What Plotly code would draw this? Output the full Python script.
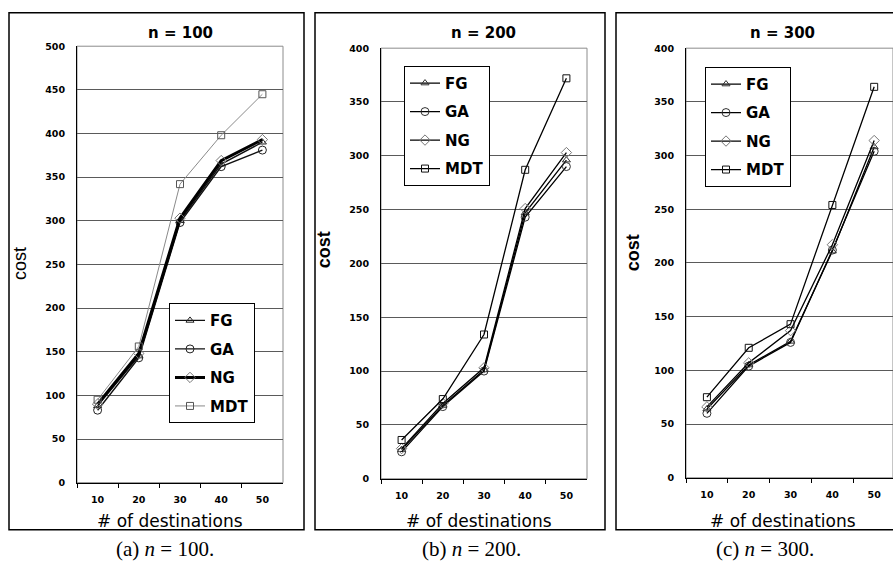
import plotly.graph_objects as go

W, H = 893, 572

# ---------------- data ----------------
categories = ["10", "20", "30", "40", "50"]
series_names = ["FG", "GA", "NG", "MDT"]

fg_100 = [88, 145, 300, 365, 390]
ga_100 = [83, 143, 298, 362, 381]
ng_100 = [90, 148, 303, 369, 393]
mdt_100 = [95, 156, 342, 398, 445]

fg_200 = [27, 68, 101, 247, 296]
ga_200 = [25, 67, 100, 243, 290]
ng_200 = [28, 70, 103, 251, 303]
mdt_200 = [36, 74, 134, 287, 372]

fg_300 = [64, 105, 127, 211, 308]
ga_300 = [60, 104, 126, 212, 304]
ng_300 = [66, 107, 137, 217, 314]
mdt_300 = [75, 121, 143, 254, 364]

panel_titles = ["n = 100", "n = 200", "n = 300"]
captions = ["(a) <i>n</i> = 100.", "(b) <i>n</i> = 200.", "(c) <i>n</i> = 300."]
y_max = [500, 400, 400]
x_title = "# of destinations"
y_title = "cost"


def fx(px):
    return px / W


def fy(py):
    return 1 - py / H


SYM = {"FG": "triangle-up-open", "GA": "circle-open", "NG": "diamond-open", "MDT": "square-open"}
SIZE = {"FG": 7, "GA": 8, "NG": 8, "MDT": 7}

styles_a = {
    "FG": dict(lc="#111111", lw=1.4, mc="#222222"),
    "GA": dict(lc="#111111", lw=1.4, mc="#222222"),
    "NG": dict(lc="#000000", lw=3.0, mc="#777777"),
    "MDT": dict(lc="#8a8a8a", lw=1.0, mc="#555555"),
}
styles_bc = {
    "FG": dict(lc="#000000", lw=1.3, mc="#333333"),
    "GA": dict(lc="#000000", lw=1.3, mc="#333333"),
    "NG": dict(lc="#000000", lw=1.3, mc="#777777"),
    "MDT": dict(lc="#000000", lw=1.3, mc="#111111"),
}

panels = [
    dict(values=[fg_100, ga_100, ng_100, mdt_100], styles=styles_a,
         plot=(77, 283, 41, 486), xrange=[-0.5, 4.5], frame=(9, 304),
         legend=(169, 303), title_x=180, xt_x=170, cap_x=165, yt=(20, 263), yt_bold=False),
    dict(values=[fg_200, ga_200, ng_200, mdt_200], styles=styles_bc,
         plot=(381, 587, 43, 482), xrange=[-0.5, 4.5], frame=(315, 605),
         legend=(404, 61), title_x=483, xt_x=479, cap_x=471, yt=(324, 249), yt_bold=True),
    dict(values=[fg_300, ga_300, ng_300, mdt_300], styles=styles_bc,
         plot=(686, 893, 43, 481), xrange=[-0.5, 4.45], frame=(616, 960),
         legend=(705, 62), title_x=782, xt_x=783, cap_x=765, yt=(633, 252), yt_bold=True),
]

fig = go.Figure()
shapes = []
annotations = []
layout = {}

tickfont = dict(family="DejaVu Sans", size=9.5, color="black", weight="bold")

for i, p in enumerate(panels):
    sfx = "" if i == 0 else str(i + 1)
    xa, ya = "x" + sfx, "y" + sfx
    lg = "legend" + sfx
    for name, vals in zip(series_names, p["values"]):
        st = p["styles"][name]
        fig.add_trace(go.Scatter(
            x=categories, y=vals, name=name, mode="lines+markers",
            xaxis=xa, yaxis=ya, legend=lg, legendgroup=f"p{i}{name}",
            line=dict(color=st["lc"], width=st["lw"]),
            marker=dict(symbol=SYM[name], size=SIZE[name], color=st["mc"],
                        line=dict(width=1, color=st["mc"])),
            cliponaxis=False,
        ))
    x0, x1, y0, y1 = p["plot"]
    layout["xaxis" + sfx] = dict(
        domain=[fx(x0), fx(x1)], anchor=ya, type="category", range=p["xrange"],
        showline=True, linecolor="black", linewidth=1, showgrid=False,
        ticks="outside", tickson="boundaries", ticklen=4, tickcolor="black",
        tickfont=tickfont, ticklabelstandoff=8, fixedrange=True,
    )
    layout["yaxis" + sfx] = dict(
        domain=[fy(y1), fy(y0)], anchor=xa, range=[0, y_max[i]], dtick=50,
        showline=True, linecolor="black", linewidth=1,
        showgrid=True, gridcolor="#5a5a5a", gridwidth=1, zeroline=False,
        ticks="", tickfont=tickfont, ticklabelstandoff=9, fixedrange=True,
    )
    layout[lg] = dict(
        x=fx(p["legend"][0]), y=fy(p["legend"][1]), xanchor="left", yanchor="top",
        bgcolor="white", bordercolor="black", borderwidth=1,
        font=dict(family="DejaVu Sans", size=15, color="black", weight="bold"),
        tracegroupgap=6, itemwidth=30,
    )
    # plot-area border (grey top/right)
    shapes.append(dict(type="rect", xref=xa + " domain", yref=ya + " domain",
                       x0=0, x1=1, y0=0, y1=1, line=dict(color="#8c8c8c", width=1), layer="below"))
    # outer frame
    fx0, fx1 = p["frame"]
    shapes.append(dict(type="rect", xref="paper", yref="paper",
                       x0=fx(fx0), x1=fx(fx1), y0=fy(534), y1=fy(7),
                       line=dict(color="black", width=1.5)))
    # texts
    annotations.append(dict(text=panel_titles[i], x=fx(p["title_x"]), y=fy(28), xref="paper", yref="paper",
                            showarrow=False, xanchor="center", yanchor="middle",
                            font=dict(family="DejaVu Sans", size=15, color="black", weight="bold")))
    annotations.append(dict(text=x_title, x=fx(p["xt_x"]), y=fy(525), xref="paper", yref="paper",
                            showarrow=False, xanchor="center", yanchor="middle",
                            font=dict(family="DejaVu Sans", size=17, color="black")))
    annotations.append(dict(text=captions[i], x=fx(p["cap_x"]), y=fy(554), xref="paper", yref="paper",
                            showarrow=False, xanchor="center", yanchor="middle",
                            font=dict(family="Liberation Serif", size=21, color="black")))
    annotations.append(dict(text=y_title, x=fx(p["yt"][0]), y=fy(p["yt"][1]), xref="paper", yref="paper",
                            showarrow=False, xanchor="center", yanchor="middle", textangle=-90,
                            font=dict(family="Liberation Sans", size=18, color="black",
                                      weight="bold" if p["yt_bold"] else "normal")))

fig.update_layout(
    width=W, height=H, margin=dict(l=0, r=0, t=0, b=0),
    paper_bgcolor="white", plot_bgcolor="white",
    shapes=shapes, annotations=annotations, **layout,
)

fig.write_html("out.html", config={"displayModeBar": False},
               post_script="document.body.style.margin='0';")
